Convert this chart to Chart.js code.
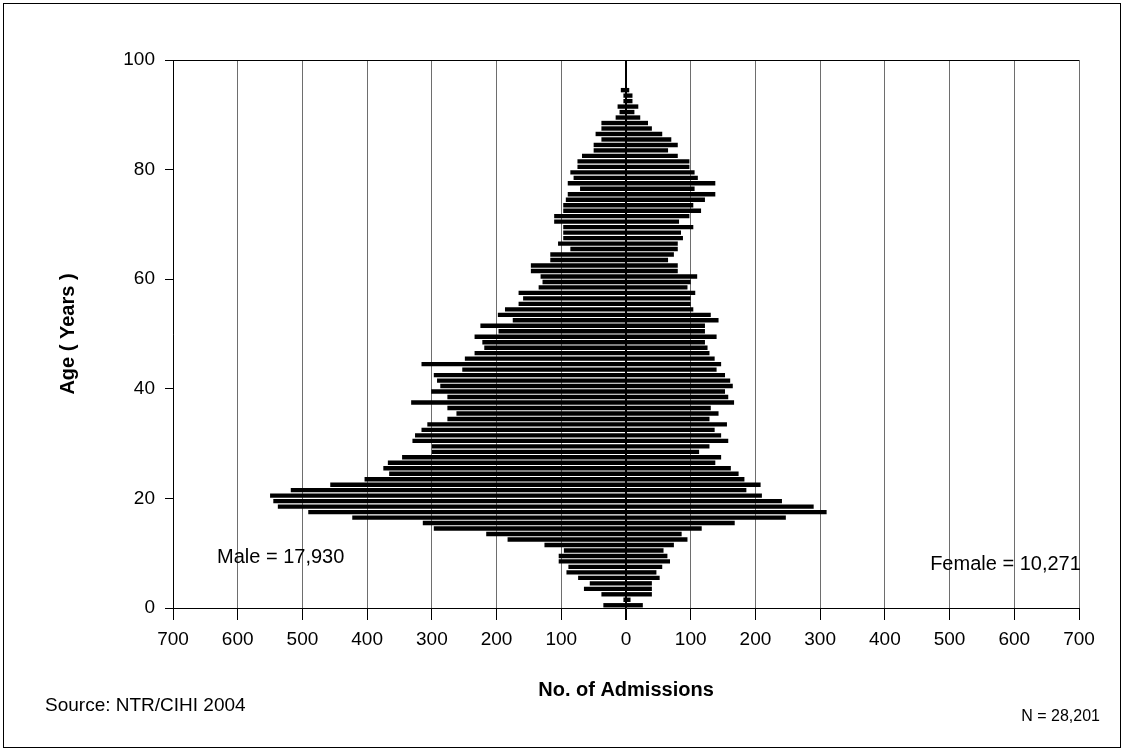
<!DOCTYPE html>
<html>
<head>
<meta charset="utf-8">
<title>Admissions by age and sex</title>
<script src="https://cdn.jsdelivr.net/npm/chart.js@4.4.0/dist/chart.umd.min.js"></script>
<style>
  html, body { margin: 0; padding: 0; background: #fff; }
  #wrap { position: relative; width: 1126px; height: 753px; font-family: 'Liberation Sans', Arial, sans-serif; }
  #frame { position: absolute; left: 3px; top: 3px; width: 1118px; height: 745px; border: 1px solid #000; box-sizing: border-box; pointer-events: none; }
  .note { position: absolute; color: #000; white-space: nowrap; }
</style>
</head>
<body>
<div id="wrap">
  <canvas id="pyramid" width="1126" height="753"></canvas>
  <div id="frame"></div>
  <div class="note" style="left:45px; top:694px; font-size:19px;">Source: NTR/CIHI 2004</div>
  <div class="note" style="right:26px; top:707px; font-size:16px;">N = 28,201</div>
</div>

<script>
// Single year of age (rows of the pyramid)
const ages = [
  0, 1, 2, 3, 4, 5, 6, 7, 8, 9,
  10, 11, 12, 13, 14, 15, 16, 17, 18, 19,
  20, 21, 22, 23, 24, 25, 26, 27, 28, 29,
  30, 31, 32, 33, 34, 35, 36, 37, 38, 39,
  40, 41, 42, 43, 44, 45, 46, 47, 48, 49,
  50, 51, 52, 53, 54, 55, 56, 57, 58, 59,
  60, 61, 62, 63, 64, 65, 66, 67, 68, 69,
  70, 71, 72, 73, 74, 75, 76, 77, 78, 79,
  80, 81, 82, 83, 84, 85, 86, 87, 88, 89,
  90, 91, 92, 93, 94
];

// Admissions per age
const maleCounts = [
  35, 4, 38, 65, 56, 74, 92, 89, 104, 104,
  96, 126, 183, 216, 297, 314, 423, 491, 538, 545,
  550, 518, 457, 404, 366, 375, 368, 346, 300, 300,
  330, 326, 316, 307, 276, 262, 276, 332, 276, 301,
  287, 292, 297, 253, 316, 249, 234, 219, 222, 234,
  197, 225, 175, 198, 187, 166, 159, 166, 135, 129,
  132, 147, 147, 117, 117, 86, 105, 97, 97, 97,
  111, 111, 97, 97, 93, 90, 71, 90, 81, 86,
  75, 75, 68, 50, 50, 38, 47, 38, 38, 16,
  10, 13, 4, 4, 8
];

const femaleCounts = [
  26, 7, 40, 40, 40, 52, 47, 56, 68, 64,
  58, 74, 95, 86, 117, 168, 247, 310, 290, 241,
  210, 186, 208, 183, 174, 162, 138, 147, 113, 129,
  158, 147, 137, 156, 129, 143, 131, 167, 158, 153,
  165, 161, 153, 140, 147, 137, 129, 126, 122, 140,
  122, 122, 143, 131, 104, 100, 100, 107, 95, 100,
  110, 80, 80, 65, 74, 80, 80, 88, 85, 104,
  82, 98, 116, 104, 122, 138, 106, 138, 111, 106,
  98, 98, 80, 65, 80, 70, 56, 40, 34, 22,
  13, 19, 10, 10, 5
];

// In-plot labels: [text, admissions, age]
const plotNotes = [
  ['Male = 17,930', -632, 9.3],
  ['Female = 10,271', 470, 7.9]
];

// Draws the in-plot labels
const notesPlugin = {
  id: 'notes',
  afterDatasetsDraw(chart) {
    const { ctx, scales } = chart;
    ctx.save();
    ctx.font = '20px "Liberation Sans", Arial, sans-serif';
    ctx.fillStyle = '#000';
    ctx.textBaseline = 'middle';
    plotNotes.forEach(([text, x, y]) => {
      ctx.fillText(text, scales.x.getPixelForValue(x), scales.y.getPixelForValue(y));
    });
    ctx.restore();
  }
};

const ctx = document.getElementById('pyramid').getContext('2d');

const pyramidChart = new Chart(ctx, {
  type: 'bar',
  data: {
    datasets: [
      {
        label: 'Male',
        data: ages.map((age, i) => ({ x: -maleCounts[i], y: age + 0.5 })),
        backgroundColor: '#000',
        borderWidth: 0,
        barPercentage: 0.8,
        categoryPercentage: 1
      },
      {
        label: 'Female',
        data: ages.map((age, i) => ({ x: femaleCounts[i], y: age + 0.5 })),
        backgroundColor: '#000',
        borderWidth: 0,
        barPercentage: 0.8,
        categoryPercentage: 1
      }
    ]
  },
  options: {
    indexAxis: 'y',
    responsive: false,
    animation: false,
    layout: {
      padding: { top: 60, right: 47, left: 0, bottom: 0 }
    },
    plugins: {
      legend: { display: false },
      tooltip: { enabled: false }
    },
    scales: {
      x: {
        type: 'linear',
        stacked: true,
        min: -700,
        max: 700,
        afterFit: (scale) => { scale.height = 145; },
        ticks: {
          stepSize: 100,
          callback: (v) => Math.abs(v),
          color: '#000',
          font: { family: '"Liberation Sans", Arial, sans-serif', size: 19 },
          padding: 8,
          maxRotation: 0
        },
        grid: {
          color: (c) => (c.tick && c.tick.value === 0 ? '#000' : '#6e6e6e'),
          lineWidth: (c) => (c.tick && c.tick.value === 0 ? 2 : 1),
          tickColor: '#000',
          tickLength: 12
        },
        border: { display: true, color: '#000', width: 1 },
        title: {
          display: true,
          text: 'No. of Admissions',
          color: '#000',
          font: { family: '"Liberation Sans", Arial, sans-serif', size: 20, weight: 'bold' },
          padding: { top: 0, bottom: 51 }
        }
      },
      y: {
        type: 'linear',
        stacked: true,
        offset: false,
        min: 0,
        max: 100,
        afterFit: (scale) => { scale.width = 173; },
        ticks: {
          stepSize: 20,
          color: '#000',
          font: { family: '"Liberation Sans", Arial, sans-serif', size: 19 },
          padding: 10
        },
        grid: {
          offset: false,
          color: (c) => (c.tick && c.tick.value === 100 ? '#000' : 'rgba(0,0,0,0)'),
          tickColor: '#000',
          tickLength: 8
        },
        border: { display: true, color: '#000', width: 1 },
        title: {
          display: true,
          text: 'Age ( Years )',
          color: '#000',
          font: { family: '"Liberation Sans", Arial, sans-serif', size: 20, weight: 'bold' },
          padding: { top: 56, bottom: 0 }
        }
      }
    }
  },
  plugins: [notesPlugin]
});
</script>
</body>
</html>
